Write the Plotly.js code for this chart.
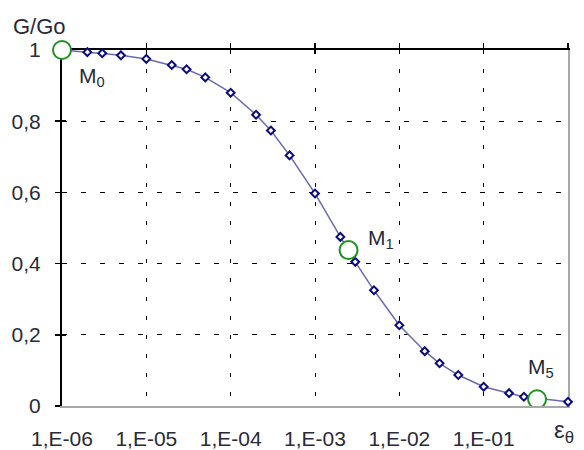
<!DOCTYPE html>
<html>
<head>
<meta charset="utf-8">
<script src="https://cdn.plot.ly/plotly-3.0.1.min.js"></script>
<style>html,body{margin:0;padding:0;background:#fff;}#chart{width:584px;height:450px;}</style>
</head>
<body>
<div id="chart"></div>
<script>
// Strain (log scale) and normalized shear modulus G/Go
var strain = [1e-6, 2e-6, 3e-6, 5e-6, 1e-5, 2e-5, 3e-5, 5e-5, 1e-4, 2e-4, 3e-4, 5e-4,
              1e-3, 2e-3, 3e-3, 5e-3, 1e-2, 2e-2, 3e-2, 5e-2, 1e-1, 2e-1, 3e-1, 1e0];
var ratio  = [1.0, 0.994, 0.991, 0.985, 0.975, 0.958, 0.946, 0.923, 0.880, 0.818, 0.774, 0.704,
              0.597, 0.475, 0.405, 0.325, 0.227, 0.154, 0.120, 0.087, 0.054, 0.036, 0.026, 0.012];

// Highlighted points M0, M1, M5
var markStrain = [1e-6, 2.5e-3, 4.3e-1];
var markRatio  = [1.0, 0.438, 0.019];
var markNames  = ['M<sub>0</sub>', 'M<sub>1</sub>', 'M<sub>5</sub>'];

// Tick labels
var xTickVals = [1e-6, 1e-5, 1e-4, 1e-3, 1e-2, 1e-1];
var xTickText = ['1,E-06', '1,E-05', '1,E-04', '1,E-03', '1,E-02', '1,E-01'];
var xTopTicks = [1e-6, 1e-5, 1e-4, 1e-3, 1e-2, 1e-1, 1e0];
var yTickVals = [0, 0.2, 0.4, 0.6, 0.8, 1];
var yTickText = ['0', '0,2', '0,4', '0,6', '0,8', '1'];

var FONT = 'Liberation Sans, Arial, sans-serif';
var TXT = '#2a2a38';
var GREEN = '#1f931f';

var traces = [
  {
    x: strain, y: ratio, type: 'scatter', mode: 'lines+markers',
    line: {color: '#6a6ab0', width: 1.5},
    marker: {symbol: 'diamond', size: 6, color: '#ffffff', line: {color: '#0a0a80', width: 2}},
    cliponaxis: false, hoverinfo: 'skip', showlegend: false
  },
  {
    x: markStrain.slice(0, 2), y: markRatio.slice(0, 2), type: 'scatter', mode: 'markers',
    marker: {symbol: 'circle', size: 18, color: '#ffffff', line: {color: GREEN, width: 2}},
    cliponaxis: false, hoverinfo: 'skip', showlegend: false
  },
  {
    x: markStrain.slice(2), y: markRatio.slice(2), type: 'scatter', mode: 'markers',
    marker: {symbol: 'circle', size: 18, color: '#ffffff', line: {color: GREEN, width: 2}},
    cliponaxis: true, hoverinfo: 'skip', showlegend: false
  },
  // invisible helpers so overlay axes (crossing ticks, frame) are drawn
  {x: [1e-3], y: [0.5], xaxis: 'x2', yaxis: 'y2', mode: 'markers', marker: {opacity: 0}, hoverinfo: 'skip', showlegend: false},
  {x: [1e-3], y: [0.5], xaxis: 'x3', yaxis: 'y3', mode: 'markers', marker: {opacity: 0}, hoverinfo: 'skip', showlegend: false}
];

var annotations = [
  {text: 'G/Go', xref: 'paper', yref: 'paper', x: -0.044, y: 1.066, xanchor: 'center', yanchor: 'middle', showarrow: false, font: {family: FONT, size: 22, color: TXT}},
  {text: 'ε<sub>θ</sub>', xref: 'paper', yref: 'paper', x: 0.993, y: -0.072, xanchor: 'center', yanchor: 'middle', showarrow: false, font: {family: FONT, size: 24, color: TXT}},
  {text: markNames[0], xref: 'paper', yref: 'paper', x: 0.060, y: 0.925, xanchor: 'center', yanchor: 'middle', showarrow: false, font: {family: FONT, size: 21, color: TXT}},
  {text: markNames[1], xref: 'paper', yref: 'paper', x: 0.630, y: 0.470, xanchor: 'center', yanchor: 'middle', showarrow: false, font: {family: FONT, size: 21, color: TXT}},
  {text: markNames[2], xref: 'paper', yref: 'paper', x: 0.946, y: 0.108, xanchor: 'center', yanchor: 'middle', showarrow: false, font: {family: FONT, size: 21, color: TXT}}
];

var layout = {
  width: 584, height: 450,
  margin: {l: 62, r: 16, t: 50, b: 44, pad: 0},
  paper_bgcolor: '#ffffff', plot_bgcolor: '#ffffff',
  font: {family: FONT, size: 21, color: TXT},
  xaxis: {
    type: 'log', range: [-6, 0], tickvals: xTickVals, ticktext: xTickText,
    tickfont: {family: FONT, size: 21, color: TXT},
    showline: true, linecolor: '#a8a8a8', linewidth: 1.5,
    ticks: '', ticklabelstandoff: 13,
    showgrid: true, gridcolor: '#000000', gridwidth: 1, griddash: '4px,15px',
    zeroline: false, layer: 'below traces', fixedrange: true
  },
  xaxis2: {
    type: 'log', range: [-6, 0], overlaying: 'x', side: 'top', anchor: 'y2',
    tickvals: xTopTicks, showticklabels: false,
    showline: true, linecolor: '#000000', linewidth: 2,
    ticks: 'outside', ticklen: 5, tickwidth: 1.5, tickcolor: '#000000',
    showgrid: false, zeroline: false, layer: 'below traces'
  },
  xaxis3: {
    type: 'log', range: [-6, 0], overlaying: 'x', side: 'top', anchor: 'y3',
    tickvals: xTopTicks, showticklabels: false, showline: false,
    ticks: 'inside', ticklen: 4, tickwidth: 1.5, tickcolor: '#000000',
    showgrid: false, zeroline: false, layer: 'below traces'
  },
  yaxis: {
    range: [0, 1], tickvals: yTickVals, ticktext: yTickText,
    tickfont: {family: FONT, size: 21, color: TXT},
    showline: true, linecolor: '#000000', linewidth: 2,
    ticks: 'outside', ticklen: 5, tickwidth: 1.5, tickcolor: '#000000', ticklabelstandoff: 10,
    showgrid: true, gridcolor: '#000000', gridwidth: 1, griddash: '5px,14px',
    zeroline: false, layer: 'below traces', fixedrange: true
  },
  yaxis2: {
    range: [0, 1], overlaying: 'y', side: 'left', anchor: 'x2',
    tickvals: yTickVals, showticklabels: false, showline: false,
    ticks: 'inside', ticklen: 4, tickwidth: 1.5, tickcolor: '#000000',
    showgrid: false, zeroline: false, layer: 'below traces'
  },
  yaxis3: {
    range: [0, 1], overlaying: 'y', side: 'right', anchor: 'x3',
    showticklabels: false, showline: true, linecolor: '#a8a8a8', linewidth: 1.5,
    ticks: '', showgrid: false, zeroline: false, layer: 'below traces'
  },
  annotations: annotations,
  showlegend: false
};

Plotly.newPlot('chart', traces, layout, {displayModeBar: false, staticPlot: true});
</script>
</body>
</html>
